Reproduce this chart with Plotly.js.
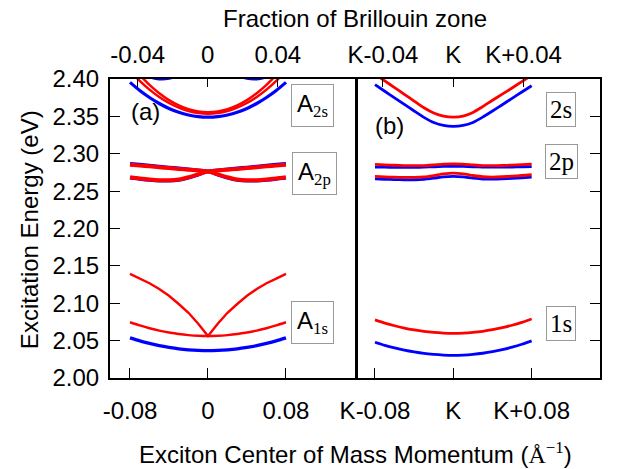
<!DOCTYPE html>
<html>
<head>
<meta charset="utf-8">
<script src="https://cdn.plot.ly/plotly-3.0.1.min.js"></script>
<style>html,body{margin:0;padding:0;background:#fff;}#chart{width:623px;height:469px;}</style>
</head>
<body>
<div id="chart"></div>
<script>
// momentum grid (Å^-1), relative to Gamma (panel a) and to K (panel b)
const q = [-0.08,-0.07,-0.06,-0.05,-0.04,-0.03,-0.02,-0.01,0,0.01,0.02,0.03,0.04,0.05,0.06,0.07,0.08];

// Panel (a)
const a1sBlue = [2.0536,2.0496,2.0462,2.0432,2.0409,2.0390,2.0377,2.0369,2.0366,2.0369,2.0377,2.0390,2.0409,2.0432,2.0462,2.0496,2.0536];
const a1sRed  = [2.0746,2.0703,2.0666,2.0634,2.0608,2.0588,2.0574,2.0565,2.0562,2.0565,2.0574,2.0588,2.0608,2.0634,2.0666,2.0703,2.0746];
const a1sRedCusp = [2.1392,2.1330,2.1268,2.1190,2.1100,2.0990,2.0872,2.0727,2.0562,2.0727,2.0872,2.0990,2.1100,2.1190,2.1268,2.1330,2.1392];
const a2pTopBlue = [2.2870,2.2859,2.2847,2.2834,2.2821,2.2808,2.2796,2.2783,2.2768,2.2783,2.2796,2.2808,2.2821,2.2834,2.2847,2.2859,2.2870];
const a2pTopRed  = [2.2853,2.2843,2.2832,2.2820,2.2808,2.2797,2.2787,2.2776,2.2763,2.2776,2.2787,2.2797,2.2808,2.2820,2.2832,2.2843,2.2853];
const a2pBotBlue = [2.2677,2.2660,2.2646,2.2637,2.2635,2.2645,2.2675,2.2716,2.2758,2.2716,2.2675,2.2645,2.2635,2.2637,2.2646,2.2660,2.2677];
const a2pBotRed  = [2.2687,2.2670,2.2656,2.2647,2.2645,2.2655,2.2685,2.2725,2.2763,2.2725,2.2685,2.2655,2.2645,2.2647,2.2656,2.2670,2.2687];
const a2sBlue = [2.3955,2.3846,2.3752,2.3672,2.3606,2.3555,2.3519,2.3497,2.3490,2.3497,2.3519,2.3555,2.3606,2.3672,2.3752,2.3846,2.3955];
const a2sRed1 = [2.4109,2.3975,2.3858,2.3760,2.3679,2.3617,2.3572,2.3545,2.3536,2.3545,2.3572,2.3617,2.3679,2.3760,2.3858,2.3975,2.4109];
const a2sRed2 = [2.4208,2.4055,2.3922,2.3810,2.3718,2.3647,2.3596,2.3565,2.3555,2.3565,2.3596,2.3647,2.3718,2.3810,2.3922,2.4055,2.4208];
const aUpperBlue = [2.4150,2.4080,2.4025,2.3998,2.4005,2.4045,2.4080,2.4100,2.4110,2.4100,2.4080,2.4045,2.4005,2.3998,2.4025,2.4080,2.4150];

// Panel (b)
const b1sBlue = [2.0478,2.0437,2.0402,2.0372,2.0348,2.0328,2.0315,2.0307,2.0304,2.0307,2.0316,2.0331,2.0352,2.0379,2.0412,2.0451,2.0496];
const b1sRed  = [2.0777,2.0735,2.0699,2.0668,2.0643,2.0623,2.0609,2.0601,2.0598,2.0601,2.0610,2.0625,2.0646,2.0673,2.0706,2.0745,2.0790];
const b2pTopRed  = [2.2858,2.2852,2.2846,2.2842,2.2840,2.2842,2.2850,2.2860,2.2865,2.2860,2.2850,2.2842,2.2840,2.2843,2.2848,2.2854,2.2860];
const b2pTopBlue = [2.2822,2.2820,2.2818,2.2817,2.2818,2.2821,2.2826,2.2830,2.2832,2.2830,2.2826,2.2822,2.2820,2.2821,2.2823,2.2826,2.2829];
const b2pBotRed  = [2.2696,2.2690,2.2686,2.2684,2.2684,2.2690,2.2708,2.2730,2.2740,2.2730,2.2709,2.2692,2.2688,2.2692,2.2700,2.2709,2.2719];
const b2pBotBlue = [2.2665,2.2659,2.2655,2.2652,2.2652,2.2658,2.2673,2.2690,2.2697,2.2690,2.2674,2.2662,2.2660,2.2664,2.2671,2.2679,2.2687];
const b2sBlue = [2.3924,2.3836,2.3748,2.3660,2.3572,2.3487,2.3418,2.3378,2.3366,2.3378,2.3418,2.3490,2.3572,2.3656,2.3741,2.3826,2.3910];
const b2sRed  = [2.4065,2.3975,2.3885,2.3795,2.3705,2.3615,2.3545,2.3503,2.3490,2.3503,2.3552,2.3630,2.3715,2.3797,2.3880,2.3965,2.4050];

// tick labels
const bottomTickVals = [-0.08, 0, 0.08];
const bottomTickTextA = ['-0.08', '0', '0.08'];
const bottomTickTextB = ['K-0.08', 'K', 'K+0.08'];
const topTickVals = [-0.04, 0, 0.04];
const topTickTextA = ['-0.04', '0', '0.04'];
const topTickTextB = ['K-0.04', 'K', 'K+0.04'];

const RED = '#ff0000', BLUE = '#0000ff';
function line(x, y, color, width, xa, ya) {
  return {x: x, y: y, type: 'scatter', mode: 'lines', xaxis: xa, yaxis: ya,
          line: {color: color, width: width, shape: 'spline', smoothing: 0.6},
          hoverinfo: 'skip', showlegend: false};
}
const data = [
  line(q, aUpperBlue, BLUE, 2.5, 'x', 'y'),
  line(q, a2sBlue, BLUE, 3.2, 'x', 'y'),
  line(q, a2sRed1, RED, 2.5, 'x', 'y'),
  line(q, a2sRed2, RED, 2.5, 'x', 'y'),
  line(q, a2pTopBlue, BLUE, 3, 'x', 'y'),
  line(q, a2pBotBlue, BLUE, 3, 'x', 'y'),
  line(q, a2pTopRed, RED, 4, 'x', 'y'),
  line(q, a2pBotRed, RED, 4, 'x', 'y'),
  line(q, a1sBlue, BLUE, 3.3, 'x', 'y'),
  line(q, a1sRed, RED, 2.4, 'x', 'y'),
  {x: q, y: a1sRedCusp, type: 'scatter', mode: 'lines', xaxis: 'x', yaxis: 'y',
   line: {color: RED, width: 2.4}, hoverinfo: 'skip', showlegend: false},
  line(q, b2sBlue, BLUE, 2.8, 'x2', 'y2'),
  line(q, b2sRed, RED, 2.8, 'x2', 'y2'),
  line(q, b2pTopBlue, BLUE, 2.8, 'x2', 'y2'),
  line(q, b2pBotBlue, BLUE, 2.8, 'x2', 'y2'),
  line(q, b2pTopRed, RED, 2.8, 'x2', 'y2'),
  line(q, b2pBotRed, RED, 2.8, 'x2', 'y2'),
  line(q, b1sBlue, BLUE, 2.8, 'x2', 'y2'),
  line(q, b1sRed, RED, 2.8, 'x2', 'y2'),
  // invisible traces so the top axes exist
  {x: topTickVals, y: [2.2, 2.2, 2.2], xaxis: 'x3', yaxis: 'y', type: 'scatter', mode: 'none', hoverinfo: 'skip', showlegend: false},
  {x: topTickVals, y: [2.2, 2.2, 2.2], xaxis: 'x4', yaxis: 'y2', type: 'scatter', mode: 'none', hoverinfo: 'skip', showlegend: false}
];

const FONT = 'Liberation Sans, Arial, Helvetica, sans-serif';
const SERIF = 'Liberation Serif, DejaVu Serif, serif';
const axBase = {showgrid: false, zeroline: false, showline: true, linecolor: '#000', linewidth: 2,
                ticks: 'inside', ticklen: 10, tickwidth: 1, tickcolor: '#000', mirror: true,
                tickfont: {family: FONT, size: 24, color: '#000'}, fixedrange: true};
const layout = {
  width: 623, height: 469,
  margin: {l: 110, r: 23, t: 79, b: 91, pad: 0},
  paper_bgcolor: '#fff', plot_bgcolor: '#fff',
  font: {family: FONT, size: 24, color: '#000'},
  showlegend: false,
  xaxis: Object.assign({}, axBase, {domain: [0, 0.502], range: [-0.1005, 0.1518], anchor: 'y',
          tickmode: 'array', tickvals: bottomTickVals, ticktext: bottomTickTextA, ticklabelstandoff: 10}),
  xaxis2: Object.assign({}, axBase, {domain: [0.504, 1], range: [-0.0984, 0.1498], anchor: 'y2',
          tickmode: 'array', tickvals: bottomTickVals, ticktext: bottomTickTextB, ticklabelstandoff: 10}),
  xaxis3: Object.assign({}, axBase, {overlaying: 'x', side: 'top', anchor: 'y', range: [-0.0558, 0.0846],
          showline: false, mirror: false, ticklen: 8,
          tickmode: 'array', tickvals: topTickVals, ticktext: topTickTextA, ticklabelstandoff: 10}),
  xaxis4: Object.assign({}, axBase, {overlaying: 'x2', side: 'top', anchor: 'y2', range: [-0.0548, 0.0835],
          showline: false, mirror: false, ticklen: 8,
          tickmode: 'array', tickvals: topTickVals, ticktext: topTickTextB, ticklabelstandoff: 10}),
  yaxis: Object.assign({}, axBase, {domain: [0, 1], range: [2.0, 2.4], anchor: 'x',
          tickmode: 'linear', tick0: 2.0, dtick: 0.05, tickformat: '.2f', ticklabelstandoff: 4}),
  yaxis2: Object.assign({}, axBase, {domain: [0, 1], range: [2.0, 2.4], anchor: 'x2', side: 'right',
          tickmode: 'linear', tick0: 2.0, dtick: 0.05, showticklabels: false}),
  annotations: [
    {xref: 'paper', yref: 'paper', x: 0.5, y: 1.204, text: 'Fraction of Brillouin zone', showarrow: false,
     xanchor: 'center', yanchor: 'middle', font: {family: FONT, size: 24}},
    {xref: 'paper', yref: 'paper', x: 0.5, y: -0.251, showarrow: false, xanchor: 'center', yanchor: 'middle',
     text: 'Exciton Center of Mass Momentum (<span style="font-family:' + SERIF + '">Å</span><sup><span style="font-family:' + SERIF + '">−1</span></sup>)',
     font: {family: FONT, size: 24}},
    {xref: 'paper', yref: 'paper', x: -0.163, y: 0.495, text: 'Excitation Energy (eV)', textangle: -90,
     showarrow: false, xanchor: 'center', yanchor: 'middle', font: {family: FONT, size: 24}},
    {xref: 'x', yref: 'y', x: -0.0646, y: 2.356, text: '(a)', showarrow: false, font: {family: FONT, size: 24}},
    {xref: 'x2', yref: 'y2', x: -0.0647, y: 2.3375, text: '(b)', showarrow: false, font: {family: FONT, size: 24}},
    {xref: 'x', yref: 'y', x: 0.1077, y: 2.365, showarrow: false, bgcolor: '#fff', bordercolor: '#999', borderwidth: 1, borderpad: 5,
     text: 'A<sub><span style="font-family:' + SERIF + '">2s</span></sub>', font: {family: FONT, size: 24}},
    {xref: 'x', yref: 'y', x: 0.1097, y: 2.2732, showarrow: false, bgcolor: '#fff', bordercolor: '#999', borderwidth: 1, borderpad: 5,
     text: 'A<sub><span style="font-family:' + SERIF + '">2p</span></sub>', font: {family: FONT, size: 24}},
    {xref: 'x', yref: 'y', x: 0.1072, y: 2.0737, showarrow: false, bgcolor: '#fff', bordercolor: '#999', borderwidth: 1, borderpad: 5,
     text: 'A<sub><span style="font-family:' + SERIF + '">1s</span></sub>', font: {family: FONT, size: 24}},
    {xref: 'x2', yref: 'y2', x: 0.110, y: 2.359, showarrow: false, bgcolor: '#fff', bordercolor: '#999', borderwidth: 1, borderpad: 3,
     text: '2s', font: {family: SERIF, size: 25}},
    {xref: 'x2', yref: 'y2', x: 0.110, y: 2.2893, showarrow: false, bgcolor: '#fff', bordercolor: '#999', borderwidth: 1, borderpad: 3,
     text: '2p', font: {family: SERIF, size: 25}},
    {xref: 'x2', yref: 'y2', x: 0.110, y: 2.0727, showarrow: false, bgcolor: '#fff', bordercolor: '#999', borderwidth: 1, borderpad: 3,
     text: '1s', font: {family: SERIF, size: 25}}
  ]
};
Plotly.newPlot('chart', data, layout, {displayModeBar: false, staticPlot: true});
</script>
</body>
</html>
